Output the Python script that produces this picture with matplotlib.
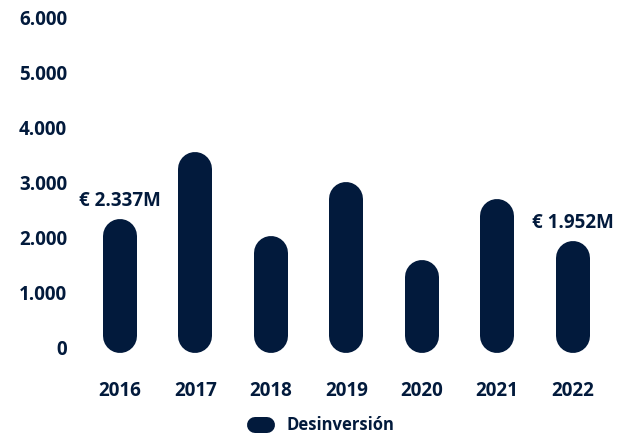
import matplotlib
matplotlib.use("Agg")
import matplotlib.pyplot as plt
from matplotlib.lines import Line2D

# Datos: desinversión anual (miles de euros)
anios = ['2016', '2017', '2018', '2019', '2020', '2021', '2022']
desinversion = [2337, 3570, 2040, 3020, 1600, 2700, 1952]
etiquetas_valor = {0: '€ 2.337M', 6: '€ 1.952M'}
yticks = [0, 1000, 2000, 3000, 4000, 5000, 6000]
ytick_labels = ['0', '1.000', '2.000', '3.000', '4.000', '5.000', '6.000']
nombre_serie = 'Desinversión'

AZUL = '#021a3c'

plt.rcParams['font.family'] = ['Open Sans', 'DejaVu Sans']
plt.rcParams['font.weight'] = 'bold'

fig = plt.figure(figsize=(6.3, 4.37), dpi=100)
ax = fig.add_axes([0.1067, 0.176, 0.886, 0.8017])
ax.set_xlim(-0.7, len(anios) - 0.3)
ax.set_ylim(-220, 6150)

# barras tipo "píldora": línea gruesa con extremos redondeados
px_por_unidad = (ax.transData.transform((0, 1000))[1] - ax.transData.transform((0, 0))[1]) / 1000
ancho_px = 34
radio = (ancho_px / 2) / px_por_unidad
base = -5 / px_por_unidad
lw = ancho_px * 72 / fig.dpi
x = list(range(len(anios)))
for i, v in zip(x, desinversion):
    ax.plot([i, i], [base + radio, v - radio], color=AZUL, lw=lw,
            solid_capstyle='round')

for i, txt in etiquetas_valor.items():
    ax.annotate(txt, (i, desinversion[i]), xytext=(0, 13), textcoords='offset points',
                ha='center', va='center', fontsize=13.5, color=AZUL, fontweight='bold')

ax.set_xticks(x, anios)
ax.set_yticks(yticks, ytick_labels)
ax.tick_params(axis='y', length=0, pad=0, labelsize=13.5, labelcolor=AZUL)
ax.tick_params(axis='x', length=0, pad=15, labelsize=13.5, labelcolor=AZUL)
for s in ax.spines.values():
    s.set_visible(False)

# leyenda
y_ley = 1 - 425 / 437
fig.add_artist(Line2D([255 / 630, 267 / 630], [y_ley, y_ley], transform=fig.transFigure,
                      lw=16 * 72 / fig.dpi, color=AZUL, solid_capstyle='round'))
fig.text(287 / 630, y_ley, nombre_serie, va='center', ha='left', fontsize=12,
         color=AZUL, fontweight='bold')

fig.savefig('out.png', dpi=100)
